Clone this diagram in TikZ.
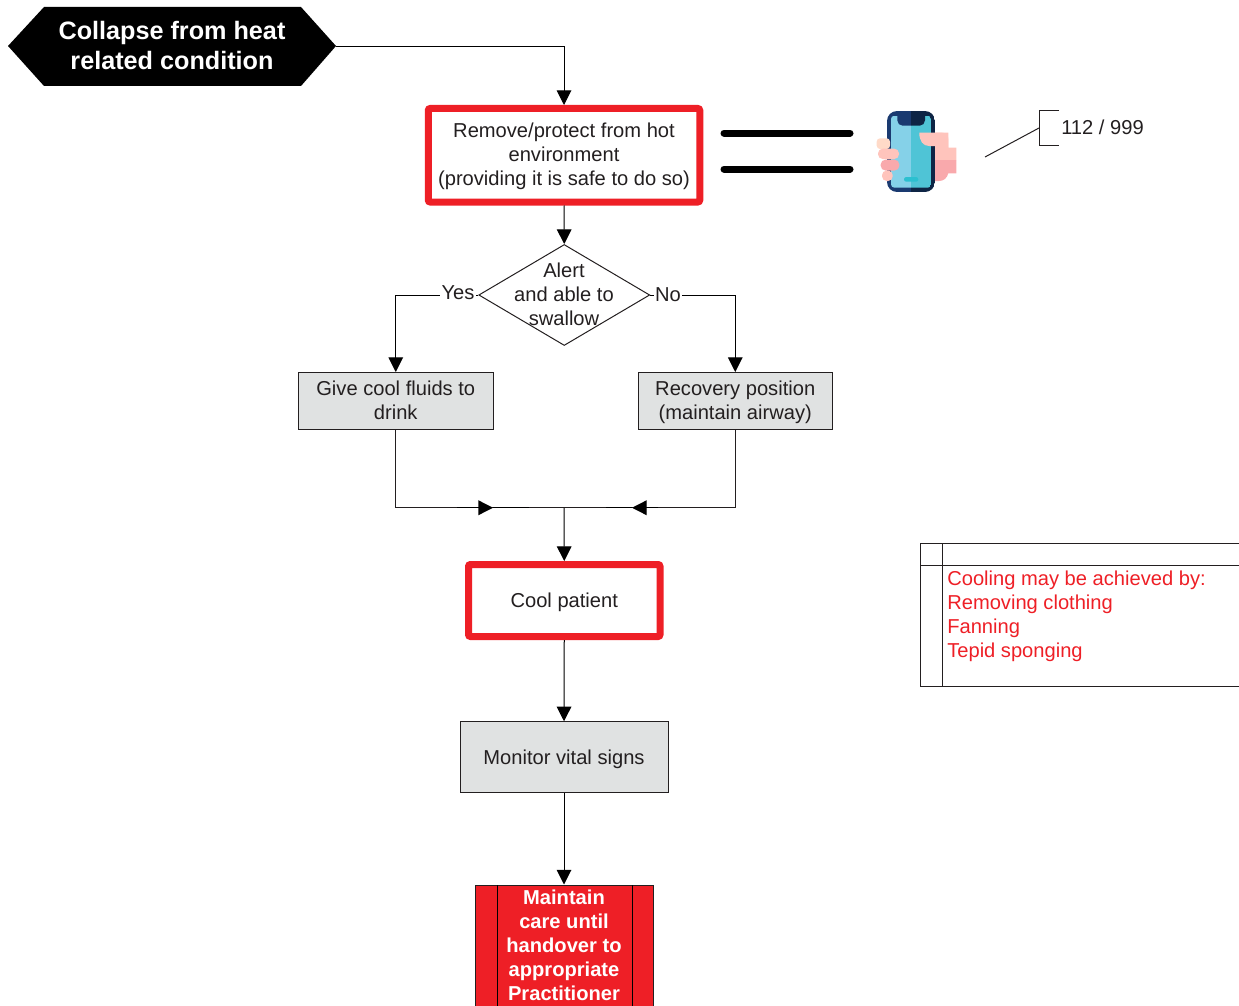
\documentclass[tikz,border=0pt]{standalone}
\usepackage{fontspec}
\setmainfont{Liberation Sans}
\usetikzlibrary{arrows.meta,shapes.geometric}
\def\px{0.75pt}
\newcommand{\nudged}[2]{\raisebox{#1}[\height][\depth]{#2}}
\newcommand{\stackedlines}[1]{\begin{tabular}{@{}c@{}}#1\end{tabular}}
\definecolor{ink}{HTML}{231F20}
\definecolor{alarm}{HTML}{EE1F26}
\definecolor{panel}{HTML}{E0E2E2}
\definecolor{bodyA}{HTML}{1A3A70}
\definecolor{bodyB}{HTML}{0E2545}
\definecolor{screenA}{HTML}{85D1E8}
\definecolor{screenB}{HTML}{4FC4D6}
\definecolor{buttonC}{HTML}{2CC0D0}
\definecolor{skinA}{HTML}{FFC4BC}
\definecolor{skinB}{HTML}{F9A9AC}
\definecolor{skinC}{HTML}{FFDAC8}
\tikzset{
  x=0.75pt,y=-0.75pt,
  every node/.style={font=\fontsize{15.1}{18}\selectfont,text=ink,align=center,inner sep=0pt},
  line/.style={draw=black,line width=0.75pt},
  arrow/.style={line,-{Triangle[length=11pt,width=11pt]}},
  redbox/.style={draw=alarm,line width=5.25pt,rounded corners=1.5pt,fill=white},
  greybox/.style={draw=ink,line width=0.75pt,fill=panel},
  thickbar/.style={draw=black,line width=5.25pt,line cap=round},
}
\begin{document}
\begin{tikzpicture}
\useasboundingbox (0,0) rectangle (1239,1006);
\clip (0,0) rectangle (1239,1006);
% start hexagon
\fill[black] (8,46) -- (44,7) -- (301,7) -- (336,46) -- (301,86) -- (44,86) -- cycle;
\coordinate (startR) at (336,46.5);
\node[text=white,font=\fontsize{18.9}{22.3}\selectfont\bfseries] (start) at (172,45.5) {Collapse from heat\\related condition};
% main nodes
\node[redbox,minimum width=271.5*\px,minimum height=93.5*\px] (remove) at (564,155.25) {\nudged{-0.75pt}{\stackedlines{Remove/protect from hot\\environment\\(providing it is safe to do so)}}};
\node[diamond,draw=ink,line width=0.75pt,minimum width=171*\px,minimum height=101*\px,aspect=1.693] (alert) at (564.25,295) {};
\node (alertT) at (564,294) {Alert\\and able to\\swallow};
\node[greybox,minimum width=194.5*\px,minimum height=57*\px] (fluids) at (395.75,401) {\nudged{-1.5pt}{\stackedlines{Give cool fluids to\\drink}}};
\node[greybox,minimum width=194*\px,minimum height=57*\px] (recovery) at (735.25,401) {\nudged{-1.5pt}{\stackedlines{Recovery position\\(maintain airway)}}};
\node[redbox,minimum width=191.5*\px,minimum height=72*\px] (cool) at (564.25,600.5) {\nudged{-1.5pt}{Cool patient}};
\node[greybox,minimum width=208*\px,minimum height=71*\px] (monitor) at (564,757.25) {\nudged{-1.5pt}{Monitor vital signs}};
\node[draw=ink,line width=0.75pt,fill=alarm,text=white,minimum width=178*\px,minimum height=121*\px,font=\fontsize{15.1}{18.1}\selectfont\bfseries] (maintain) at (564,945.5) {Maintain\\care until\\handover to\\appropriate\\Practitioner};
\draw[line] (497,885) -- (497,1006) (632,885) -- (632,1006);
% connectors
\draw[arrow] (startR) -| (remove.north);
\draw[arrow] (remove.south) -- (alert.north);
\draw[arrow] (alert.west) -| (fluids.north);
\draw[arrow] (alert.east) -| (recovery.north);
\node[fill=white,inner xsep=1pt] (yes) at (458,293) {Yes};
\node[fill=white,inner xsep=1pt] (no) at (668,295) {No};
\coordinate (join) at (564,507.75);
\coordinate (la) at (457,507.75);
\coordinate (lb) at (493,507.75);
\coordinate (lc) at (529,507.75);
\coordinate (ra) at (658,507.75);
\coordinate (rb) at (632,507.75);
\coordinate (rc) at (606,507.75);
\draw[line,draw=ink] (fluids.south) |- (join);
\draw[line,draw=ink] (recovery.south) |- (join);
\draw[arrow,line width=1pt] (la) -- (lb);
\draw[line,line width=1pt] (lb) -- (lc);
\draw[arrow,line width=1pt] (ra) -- (rb);
\draw[line,line width=1pt] (rb) -- (rc);
\draw[arrow] (join) -- (cool.north);
\draw[arrow] (cool.south) -- (monitor.north);
\draw[arrow] (monitor.south) -- (maintain.north);
% equals bars
\coordinate (barA) at (724,133); \coordinate (barB) at (850,133);
\coordinate (barC) at (724,169); \coordinate (barD) at (850,169);
\draw[thickbar] (barA) -- (barB);
\draw[thickbar] (barC) -- (barD);
% phone in hand: back of the hand
\fill[skinA] (930,132.7) -- (948.3,132.7) -- (948.3,147.7) -- (956.3,147.7) -- (956.3,160) -- (930,160) -- cycle;
\fill[skinB] (930,160) -- (956.3,160) -- (956.3,173.3) -- (948.3,173.3) .. controls (947,178) and (944,181) .. (939,181) -- (930,181) -- cycle;
% phone
\begin{scope}
  \clip[rounded corners=7.5pt] (887,111) rectangle (935,192);
  \fill[bodyA] (887,111) rectangle (911,192);
  \fill[bodyB] (911,111) rectangle (935,192);
\end{scope}
\begin{scope}
  \clip[rounded corners=2.5pt] (891,115.7) rectangle (931,187.7);
  \fill[screenA] (891,115.7) rectangle (911,187.7);
  \fill[screenB] (911,115.7) rectangle (931,187.7);
  \begin{scope}
    \clip (891,110) rectangle (911,130);
    \fill[bodyA,rounded corners=4pt] (897.3,105) -- (897.3,125.7) -- (925,125.7) -- (925,105) -- cycle;
  \end{scope}
  \begin{scope}
    \clip (911,110) rectangle (931,130);
    \fill[bodyB,rounded corners=4pt] (897.3,105) -- (897.3,125.7) -- (925,125.7) -- (925,105) -- cycle;
  \end{scope}
\end{scope}
\fill[buttonC,rounded corners=1.7pt] (904,177) rectangle (918.3,181.7);
% thumb and fingers
\fill[skinA] (919.3,132.7) -- (942,132.7) .. controls (946,132.7) and (948.3,135) .. (948.3,139) -- (948.3,150) -- (935,150) -- (935,146) -- (929,146) .. controls (923,146) and (919.3,141) .. (919.3,132.7) -- cycle;
\fill[skinC,rounded corners=2.5pt] (876.7,138.3) rectangle (890,149);
\fill[skinA,rounded corners=3.5pt] (878,148.7) rectangle (899,159);
\fill[skinB,rounded corners=3.5pt] (880.7,159.7) rectangle (899.3,170.5);
\fill[skinA,rounded corners=3.5pt] (882,170.5) rectangle (892.7,181);
% note for 112/999
\coordinate (noteA) at (1059,111); \coordinate (noteB) at (1039,111);
\coordinate (noteC) at (1039,145); \coordinate (noteD) at (1059,145);
\coordinate (noteE) at (1039,128); \coordinate (noteF) at (985,157);
\draw[line,draw=ink] (noteA) -- (noteB) -- (noteC) -- (noteD);
\draw[line,draw=ink] (noteE) -- (noteF);
\node[anchor=west] (numbers) at (1061,127) {112 / 999};
% cooling note
\coordinate (panelA) at (1239,543.5); \coordinate (panelB) at (920.5,543.5);
\coordinate (panelC) at (920.5,686); \coordinate (panelD) at (1239,686);
\coordinate (panelE) at (942.5,543.5); \coordinate (panelF) at (942.5,686);
\coordinate (panelG) at (920.5,565); \coordinate (panelH) at (1239,565);
\draw[line,draw=ink] (panelA) -- (panelB) -- (panelC) -- (panelD);
\draw[line,draw=ink] (panelE) -- (panelF);
\draw[line,draw=ink] (panelG) -- (panelH);
\node[anchor=north west,align=left,text=alarm] (cooling) at (947,571) {Cooling may be achieved by:\\Removing clothing\\Fanning\\Tepid sponging};
\end{tikzpicture}
\end{document}
